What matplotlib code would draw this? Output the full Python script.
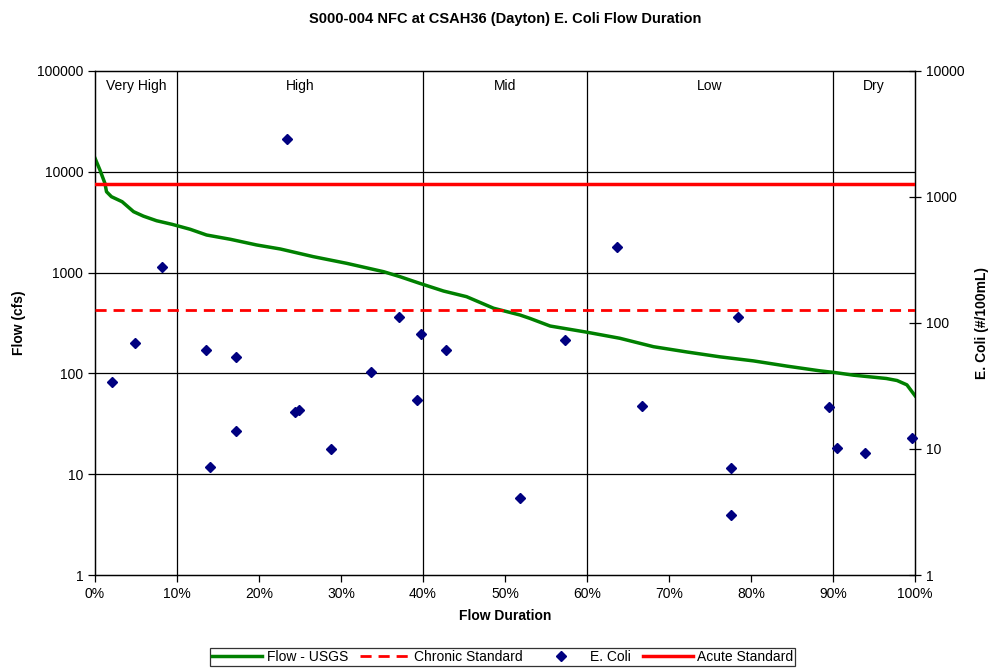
import matplotlib
matplotlib.use("Agg")
import matplotlib.pyplot as plt
from matplotlib.ticker import FixedLocator, FuncFormatter, NullLocator
from matplotlib.lines import Line2D

plt.rcParams['font.family'] = ['Liberation Sans', 'DejaVu Sans']

# flow duration curve (percent exceeded, cfs)
flow_pct = [0.0, 0.6, 1.2, 1.4, 2.0, 3.3, 4.7, 5.9, 7.5, 9.4, 11.6, 13.6, 16.5,
            19.7, 22.6, 26.6, 30.7, 35.2, 37.2, 39.6, 42.5, 45.3, 48.6, 51.8,
            53.0, 55.5, 60.0, 64.0, 68.1, 72.2, 76.2, 80.3, 84.4, 88.4, 90.2,
            92.5, 96.5, 97.8, 99.0, 99.8, 100.0]
flow_cfs = [13600, 10400, 7700, 6340, 5660, 5050, 4020, 3630, 3270, 3010, 2690,
            2360, 2140, 1880, 1714, 1440, 1235, 1020, 910, 782, 656, 577, 443,
            380, 352, 295, 256, 223, 184, 163, 146, 133, 118, 106, 102, 96, 89,
            85, 77, 63, 60]

# E. coli samples (flow duration percent, #/100mL)
ecoli_pct = [2.1, 4.9, 8.2, 13.5, 14.0, 17.2, 17.2, 23.4, 24.4, 24.9, 28.8,
             33.7, 37.1, 39.3, 39.8, 42.8, 51.8, 57.3, 63.7, 66.7, 77.6, 77.6,
             78.4, 89.5, 90.5, 93.9, 99.6]
ecoli_val = [34, 69, 278, 61, 7.2, 54, 14, 2890, 19.7, 20.5, 10, 41, 112, 24.5,
             82, 61, 4.1, 73, 401, 22, 7.1, 3.0, 112, 21.5, 10.2, 9.3, 12.2]

chronic_std = 126
acute_std = 1260

zone_edges = [10, 40, 60, 90]
zone_names = ["Very High", "High", "Mid", "Low", "Dry"]
zone_mid = [5, 25, 50, 75, 95]

fig = plt.figure(figsize=(9.88, 6.69), dpi=100)
ax = fig.add_axes([0.0962, 0.1405, 0.8300, 0.7534])
ax2 = ax.twinx()

ax.set_yscale('log')
ax.set_ylim(1, 100000)
ax.set_xlim(0, 100)
ax2.set_yscale('log')
ax2.set_ylim(1, 10000)

# horizontal grid from the flow axis, vertical lines at zone boundaries
for v in [10, 100, 1000, 10000]:
    ax.axhline(v, color='black', lw=0.9, zorder=1)
for x in zone_edges:
    ax.axvline(x, color='black', lw=0.9, zorder=1)

ax.plot(flow_pct, flow_cfs, color='#008000', lw=2.5, zorder=3)

ax2.axhline(chronic_std, color='#FF0000', lw=2, ls=(0, (4, 2.5)), zorder=3)
ax2.axhline(acute_std, color='#FF0000', lw=2.5, zorder=3)
ax2.plot(ecoli_pct, ecoli_val, ls='none', marker='D', ms=5,
         color='#000080', zorder=4, clip_on=False)

for name, xm in zip(zone_names, zone_mid):
    ax.text(xm, 0.970, name, ha='center', va='center', fontsize=10,
            transform=ax.get_xaxis_transform())

ax.yaxis.set_major_locator(FixedLocator([1, 10, 100, 1000, 10000, 100000]))
ax.yaxis.set_minor_locator(NullLocator())
ax.yaxis.set_major_formatter(FuncFormatter(lambda v, p: "%d" % v))
ax2.yaxis.set_major_locator(FixedLocator([1, 10, 100, 1000, 10000]))
ax2.yaxis.set_minor_locator(NullLocator())
ax2.yaxis.set_major_formatter(FuncFormatter(lambda v, p: "%d" % v))
ax.xaxis.set_major_locator(FixedLocator(range(0, 101, 10)))
ax.xaxis.set_major_formatter(FuncFormatter(lambda v, p: "%d%%" % v))

ax.tick_params(axis='both', labelsize=10, direction='out', length=5, width=0.9)
ax2.tick_params(axis='y', labelsize=10, direction='inout', length=8, width=0.9)
for a in (ax, ax2):
    for s in a.spines.values():
        s.set_linewidth(0.9)

ax.set_xlabel("Flow Duration", fontsize=10, fontweight='bold', labelpad=6)
ax.set_ylabel("Flow (cfs)", fontsize=10, fontweight='bold', labelpad=7.5)
ax2.set_ylabel("E. Coli (#/100mL)", fontsize=10, fontweight='bold', labelpad=8)
fig.text(0.511, 0.972, "S000-004 NFC at CSAH36 (Dayton) E. Coli Flow Duration",
         ha='center', va='center', fontsize=10.5, fontweight='bold')

handles = [
    Line2D([], [], color='#008000', lw=2.5),
    Line2D([], [], color='#FF0000', lw=2, ls=(0, (4, 2.5))),
    Line2D([], [], color='#000080', ls='none', marker='D', ms=5),
    Line2D([], [], color='#FF0000', lw=2.5),
]
labels = ["Flow - USGS", "Chronic Standard", "E. Coli", "Acute Standard"]
leg = fig.legend(handles, labels, loc='center', bbox_to_anchor=(0.509, 0.018),
                 ncol=4, fontsize=10, frameon=True, fancybox=False,
                 edgecolor='black', handlelength=3.6, handletextpad=0.3,
                 columnspacing=0.9, borderpad=0.15, borderaxespad=0)
leg.get_frame().set_linewidth(0.9)

fig.savefig("out.png", dpi=100)
